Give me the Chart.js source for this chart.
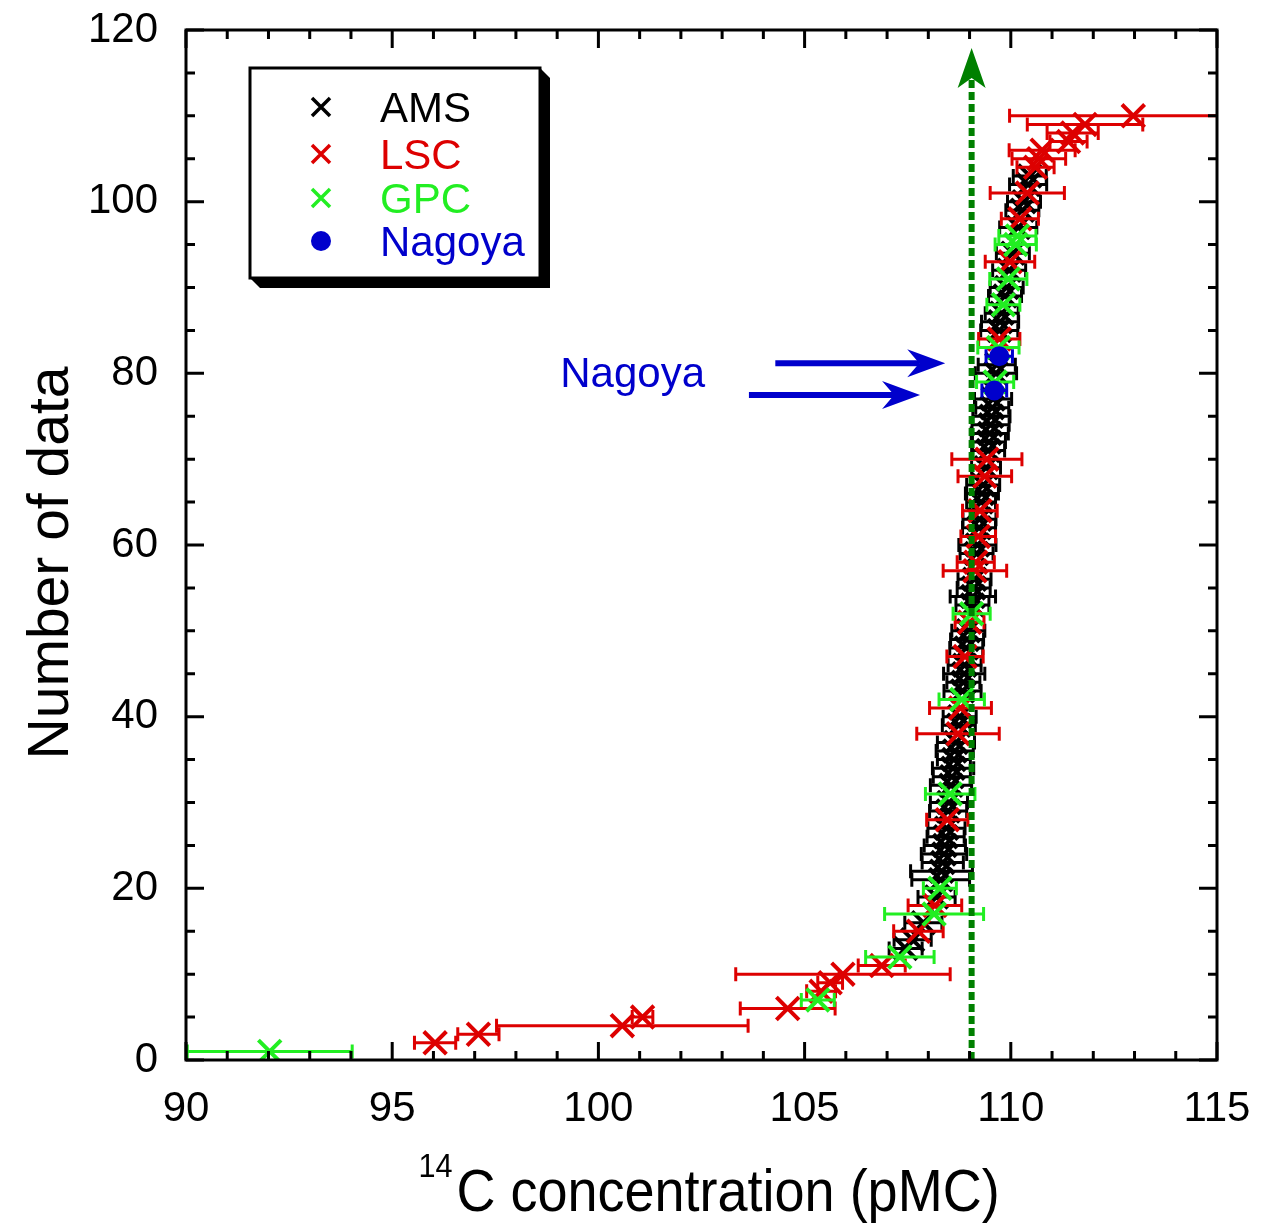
<!DOCTYPE html>
<html><head><meta charset="utf-8">
<script src="https://cdn.jsdelivr.net/npm/chart.js@4.4.0/dist/chart.umd.min.js"></script>
<style>html,body{margin:0;padding:0;background:#fff;} #wrap{width:1268px;height:1225px;}</style>
</head><body><div id="wrap"><canvas id="c" width="1268" height="1225"></canvas></div>
<script>
// ---------------- DATA ----------------
const xTickValues = [90, 95, 100, 105, 110, 115];
const yTickValues = [0, 20, 40, 60, 80, 100, 120];
const seriesNames = ['AMS', 'LSC', 'GPC', 'Nagoya'];

const amsRank = [13,14,16,19,21,22,23,24,25,26,27,29,30,32,33,34,35,36,37,39,40,43,44,45,46,48,49,50,53,54,55,56,59,60,62,63,65,66,67,69,71,72,73,74,75,76,77,80,81,85,86,87,89,90,92,94,97,99,100,102,103];
const amsValue = [107.45,107.62,107.88,108.20,108.30,108.32,108.35,108.38,108.40,108.42,108.44,108.48,108.50,108.55,108.57,108.60,108.62,108.64,108.67,108.74,108.76,108.83,108.85,108.87,108.88,108.92,108.94,108.97,109.07,109.08,109.10,109.12,109.17,109.19,109.23,109.24,109.28,109.30,109.33,109.40,109.45,109.47,109.49,109.51,109.53,109.55,109.57,109.64,109.66,109.72,109.74,109.78,109.86,109.90,109.96,110.05,110.18,110.28,110.32,110.42,110.46];
const amsError = [0.4,0.45,0.45,0.45,0.7,0.75,0.5,0.55,0.5,0.45,0.45,0.45,0.45,0.5,0.45,0.5,0.4,0.45,0.45,0.4,0.4,0.45,0.4,0.5,0.4,0.4,0.4,0.4,0.4,0.55,0.4,0.4,0.4,0.45,0.4,0.4,0.35,0.4,0.4,0.35,0.4,0.4,0.45,0.45,0.45,0.4,0.45,0.5,0.45,0.45,0.45,0.4,0.4,0.4,0.4,0.4,0.45,0.4,0.4,0.45,0.4];

const lscRank = [2,3,4,5,6,8,9,10,11,15,18,28,38,41,47,51,57,58,61,64,68,70,84,93,98,101,104,105,106,107,108,109,110];
const lscValue = [96.04,97.09,100.58,101.07,104.59,105.40,105.62,105.93,106.87,107.76,108.16,108.46,108.72,108.78,108.89,109.00,109.13,109.15,109.21,109.25,109.37,109.42,109.72,109.98,110.22,110.40,110.60,110.68,110.76,111.40,111.50,111.80,112.97];
const lscError = [0.5,0.5,3.05,0.25,1.15,0.35,0.3,2.6,0.57,0.6,0.65,0.5,1.0,0.75,0.44,0.35,0.77,0.45,0.42,0.42,0.65,0.85,0.5,0.6,0.45,0.9,0.45,0.65,0.8,0.45,0.62,1.4,3.0];

const gpcRank = [1,7,12,17,20,31,42,52,79,83,88,91,95,96];
const gpcValue = [92.03,105.32,107.31,108.14,108.28,108.53,108.81,109.05,109.62,109.70,109.82,109.94,110.12,110.16];
const gpcError = [2.0,0.4,0.83,1.2,0.4,0.6,0.55,0.45,0.45,0.5,0.4,0.45,0.5,0.45];

const nagoyaRank = [78, 82];
const nagoyaValue = [109.60, 109.72];
const nagoyaError = [0.3, 0.32];

// annotations (data coordinates)
const refLineValue = 109.05;
const refLineTop = 117.9;
const arrowY = [81.17, 77.48];
const arrowFrom = [104.29, 103.65];
const arrowTo = [108.41, 107.80];
const noteText = 'Nagoya';
const noteX = 100.83, noteY = 78.45;

// ---------------- STYLE ----------------
const FONT = '"Liberation Sans", Arial, sans-serif';
const RED = '#dd0000', GREEN = '#22ee22', BLACK = '#000000', BLUE = '#0000cc', DKGREEN = '#008000';

function pts(v, r) { return v.map((x, i) => ({x: x, y: r[i]})); }

const datasets = [
  {label: 'AMS', data: pts(amsValue, amsRank), errors: amsError, pointStyle: 'crossRot', borderColor: BLACK, backgroundColor: BLACK, order: 4},
  {label: 'LSC', data: pts(lscValue, lscRank), errors: lscError, pointStyle: 'crossRot', borderColor: RED, backgroundColor: RED, order: 3},
  {label: 'GPC', data: pts(gpcValue, gpcRank), errors: gpcError, pointStyle: 'crossRot', borderColor: GREEN, backgroundColor: GREEN, order: 2},
  {label: 'Nagoya', data: pts(nagoyaValue, nagoyaRank), errors: nagoyaError, pointStyle: 'circle', borderColor: BLUE, backgroundColor: BLUE, order: 1, pointRadius: 10, pointBorderWidth: 0}
];
datasets.forEach(d => { if (d.pointRadius === undefined) { d.pointRadius = 16; d.pointBorderWidth = 4; } d.showLine = false; });

const errorBarPlugin = {
  id: 'errorBars',
  beforeDatasetDraw(chart, args) {
    const ds = chart.data.datasets[args.index];
    if (!ds.errors) return;
    const {ctx, chartArea: a, scales: {x, y}} = chart;
    ctx.save();
    ctx.beginPath(); ctx.rect(a.left, a.top, a.right - a.left, a.bottom - a.top); ctx.clip();
    ctx.strokeStyle = ds.borderColor; ctx.lineWidth = 3;
    ds.data.forEach((p, i) => {
      const e = ds.errors[i];
      const x0 = x.getPixelForValue(p.x - e), x1 = x.getPixelForValue(p.x + e), py = y.getPixelForValue(p.y);
      ctx.beginPath();
      ctx.moveTo(x0, py); ctx.lineTo(x1, py);
      ctx.moveTo(x0, py - 7); ctx.lineTo(x0, py + 7);
      ctx.moveTo(x1, py - 7); ctx.lineTo(x1, py + 7);
      ctx.stroke();
    });
    ctx.restore();
  }
};

const decorPlugin = {
  id: 'decor',
  afterDatasetsDraw(chart) {
    const {ctx, chartArea: a, scales: {x, y}} = chart;
    const lx = x.getPixelForValue(refLineValue);
    const tipY = y.getPixelForValue(refLineTop);
    ctx.save();
    ctx.strokeStyle = DKGREEN; ctx.fillStyle = DKGREEN; ctx.lineWidth = 6;
    ctx.setLineDash([8, 4]);
    ctx.beginPath(); ctx.moveTo(lx, a.bottom); ctx.lineTo(lx, tipY + 30); ctx.stroke();
    ctx.setLineDash([]);
    ctx.beginPath(); ctx.moveTo(lx, tipY); ctx.lineTo(lx + 14, tipY + 40); ctx.lineTo(lx, tipY + 30); ctx.lineTo(lx - 14, tipY + 40); ctx.closePath(); ctx.fill();
    ctx.strokeStyle = BLUE; ctx.fillStyle = BLUE; ctx.lineWidth = 6;
    for (let i = 0; i < arrowY.length; i++) {
      const py = y.getPixelForValue(arrowY[i]);
      const x0 = x.getPixelForValue(arrowFrom[i]), x1 = x.getPixelForValue(arrowTo[i]);
      ctx.beginPath(); ctx.moveTo(x0, py); ctx.lineTo(x1 - 26, py); ctx.stroke();
      ctx.beginPath(); ctx.moveTo(x1, py); ctx.lineTo(x1 - 38, py - 14); ctx.lineTo(x1 - 26, py); ctx.lineTo(x1 - 38, py + 14); ctx.closePath(); ctx.fill();
    }
    ctx.font = '42px ' + FONT; ctx.textAlign = 'center'; ctx.textBaseline = 'alphabetic';
    ctx.fillText(noteText, x.getPixelForValue(noteX), y.getPixelForValue(noteY));
    ctx.restore();
  },
  afterDraw(chart) {
    const {ctx, chartArea: a, scales: {x, y}} = chart;
    ctx.save();
    ctx.strokeStyle = '#000'; ctx.lineWidth = 3;
    ctx.strokeRect(a.left, a.top, a.right - a.left, a.bottom - a.top);
    ctx.beginPath();
    for (let v = x.min; v <= x.max; v += 1) {
      const px = x.getPixelForValue(v);
      const len = (v % 5 === 0) ? 18 : 9;
      ctx.moveTo(px, a.bottom); ctx.lineTo(px, a.bottom - len);
      ctx.moveTo(px, a.top); ctx.lineTo(px, a.top + len);
    }
    for (let v = y.min; v <= y.max; v += 5) {
      const py = y.getPixelForValue(v);
      const len = (v % 20 === 0) ? 18 : 9;
      ctx.moveTo(a.left, py); ctx.lineTo(a.left + len, py);
      ctx.moveTo(a.right, py); ctx.lineTo(a.right - len, py);
    }
    ctx.stroke();

    ctx.fillStyle = '#000';
    ctx.save();
    ctx.translate(68, (a.top + a.bottom) / 2 + 18);
    ctx.rotate(-Math.PI / 2);
    ctx.font = '57px ' + FONT; ctx.textAlign = 'center'; ctx.textBaseline = 'alphabetic';
    ctx.fillText('Number of data', 0, 0);
    ctx.restore();

    const sx = 0.9;
    ctx.font = '60px ' + FONT;
    const mainT = 'C concentration (pMC)';
    const mw = ctx.measureText(mainT).width * sx;
    ctx.font = '34px ' + FONT;
    const sw = ctx.measureText('14').width * sx;
    const total = sw + 4 + mw;
    const start = 709 - total / 2;
    ctx.textAlign = 'left'; ctx.textBaseline = 'alphabetic';
    ctx.save(); ctx.translate(start, 1177); ctx.scale(sx, 1); ctx.fillText('14', 0, 0); ctx.restore();
    ctx.font = '60px ' + FONT;
    ctx.save(); ctx.translate(start + sw + 4, 1211); ctx.scale(sx, 1); ctx.fillText(mainT, 0, 0); ctx.restore();

    const L = 250, T = 68, R = 540, B = 278, off = 10;
    ctx.fillStyle = '#000';
    ctx.beginPath();
    ctx.moveTo(R, T); ctx.lineTo(R + off, T + off); ctx.lineTo(R + off, B + off); ctx.lineTo(L + off, B + off); ctx.lineTo(L, B); ctx.closePath(); ctx.fill();
    ctx.fillStyle = '#fff'; ctx.fillRect(L, T, R - L, B - T);
    ctx.strokeStyle = '#000'; ctx.lineWidth = 3; ctx.strokeRect(L, T, R - L, B - T);
    const rowsY = [107, 154, 198, 241];
    const cols = [BLACK, RED, GREEN, BLUE];
    ctx.font = '42px ' + FONT; ctx.textAlign = 'left'; ctx.textBaseline = 'alphabetic';
    for (let i = 0; i < 4; i++) {
      const cy = rowsY[i], cx = 321;
      ctx.strokeStyle = cols[i]; ctx.fillStyle = cols[i];
      if (i < 3) {
        ctx.lineWidth = 3.5; ctx.beginPath();
        ctx.moveTo(cx - 9, cy - 9); ctx.lineTo(cx + 9, cy + 9);
        ctx.moveTo(cx + 9, cy - 9); ctx.lineTo(cx - 9, cy + 9);
        ctx.stroke();
      } else {
        ctx.beginPath(); ctx.arc(cx, cy, 10, 0, Math.PI * 2); ctx.fill();
      }
      ctx.fillText(seriesNames[i], 380, cy + 15);
    }
    ctx.restore();
  }
};

new Chart(document.getElementById('c'), {
  type: 'scatter',
  data: {datasets: datasets},
  options: {
    responsive: false,
    animation: false,
    devicePixelRatio: 1,
    layout: {padding: {left: 0, right: 51, top: 30, bottom: 0}},
    plugins: {legend: {display: false}, tooltip: {enabled: false}},
    scales: {
      x: {
        type: 'linear', min: 90, max: 115,
        afterBuildTicks(s) { s.ticks = xTickValues.map(v => ({value: v})); },
        afterFit(s) { s.height = 165; s.paddingLeft = 0; s.paddingRight = 0; },
        grid: {display: false, drawTicks: false},
        border: {display: false},
        ticks: {font: {size: 42, family: FONT}, color: '#000', padding: 24, maxRotation: 0}
      },
      y: {
        type: 'linear', min: 0, max: 120,
        afterBuildTicks(s) { s.ticks = yTickValues.map(v => ({value: v})); },
        afterFit(s) { s.width = 186; s.paddingTop = 0; s.paddingBottom = 0; },
        grid: {display: false, drawTicks: false},
        border: {display: false},
        ticks: {font: {size: 42, family: FONT}, color: '#000', padding: 28}
      }
    }
  },
  plugins: [errorBarPlugin, decorPlugin]
});
</script>
</body></html>
